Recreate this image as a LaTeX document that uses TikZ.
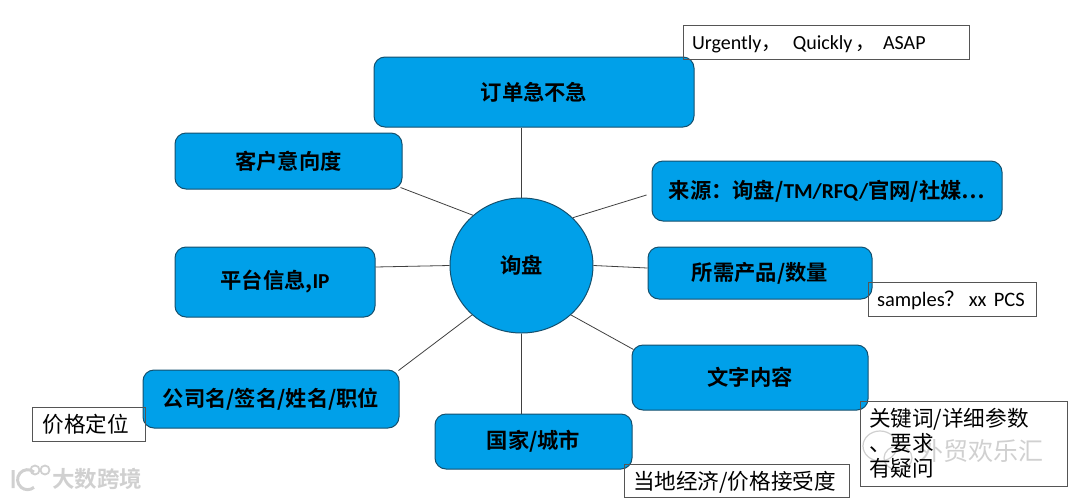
\documentclass[tikz,border=0pt]{standalone}
\usepackage{fontspec}
\setmainfont{Carlito}
\newfontfamily\cjk{Noto Sans CJK SC}[BoldFont={Noto Sans CJK SC Bold}]
\usepackage{xcolor}
\usepackage{tikz}
\usetikzlibrary{calc, shapes.geometric}
\definecolor{boxblue}{HTML}{00A0E9}
\definecolor{boxline}{HTML}{14506E}
\definecolor{noteline}{HTML}{555555}
\definecolor{markgray}{HTML}{D0D0D0}
\tikzset{
	hub/.style={ellipse, draw=boxline, fill=boxblue, line width=1pt, minimum width=143pt, minimum height=135pt, inner sep=0pt, font=\fontsize{21.3}{24}\selectfont\bfseries},
	topic/.style={draw=boxline, fill=boxblue, line width=1pt, rounded corners=11pt, inner sep=0pt, font=\fontsize{21.3}{24}\selectfont\bfseries},
	notebox/.style={draw=noteline, line width=0.9pt, inner sep=0pt, align=left, font=\fontsize{21.6}{25}\selectfont},
	spoke/.style={draw=black!75, line width=0.8pt},
	wmark/.style={text=markgray, inner sep=0pt},
}
\begin{document}
\begin{tikzpicture}[x=1pt, y=-1pt]
	\useasboundingbox (0,0) rectangle (1080,499);

	% Watermarks
	\node[wmark, anchor=west] (markleft) at (52,479) {\cjk\bfseries\fontsize{22.5}{26}\selectfont 大数跨境};
	\node[wmark, anchor=west] (markright) at (918,451) {\cjk\fontsize{25}{28}\selectfont 外贸欢乐汇};
	\draw[markgray, line width=1.2pt] (880,446) ellipse (17pt and 15pt);
	\draw[markgray, line width=1.2pt] (898,458) ellipse (14pt and 12pt);
	\draw[markgray, line width=3pt] (13,470) -- (13,488) (34,472) arc (50:310:10pt);
	\draw[markgray, line width=1.8pt] (35,470) circle (4.5pt) (45,470) circle (4.5pt);

	% Centre and topics
	\node[hub] (inquiry) at (521.5,265.5) {\cjk 询盘};
	\node[topic, minimum width=320pt, minimum height=70pt] (order) at (534,92) {\cjk 订单急不急};
	\node[topic, minimum width=227pt, minimum height=56pt] (intent) at (288.5,161) {\cjk 客户意向度};
	\node[topic, minimum width=350pt, minimum height=60pt] (source) at (827,191) {\cjk 来源：询盘/\normalfont\bfseries TM/RFQ/\cjk 官网/社媒…};
	\node[topic, minimum width=224pt, minimum height=52pt] (product) at (760,273) {\cjk 所需产品/数量};
	\node[topic, minimum width=200pt, minimum height=70pt] (platform) at (275,282) {\cjk 平台信息,\normalfont\bfseries IP};
	\node[topic, minimum width=236pt, minimum height=65pt] (content) at (750,377.5) {\cjk 文字内容};
	\node[topic, minimum width=256pt, minimum height=58pt] (company) at (271,399) {\cjk 公司名/签名/姓名/职位};
	\node[topic, minimum width=197pt, minimum height=55pt] (country) at (533.5,441.5) {\cjk 国家/城市};

	% Spokes
	\draw[spoke] (inquiry.north) -- (inquiry.north |- order.south);
	\draw[spoke] (inquiry.south) -- (inquiry.south |- country.north);
	\draw[spoke] (inquiry.134) -- ($(intent.south east)+(-2,-2)$);
	\draw[spoke] (inquiry.180) -- ($(platform.east)+(0,-15)$);
	\draw[spoke] (inquiry.225) -- ($(company.north east)+(-1,1)$);
	\draw[spoke] (inquiry.43) -- ($(source.west)+(-5,4)$);
	\draw[spoke] (inquiry.0) -- ($(product.west)+(0,-5)$);
	\draw[spoke] (inquiry.-45) -- ($(content.north west)+(2,5)$);

	% Notes
	\node[notebox, minimum width=286pt, minimum height=34pt, text width=268pt, text height=20pt, text depth=5pt] (asap) at (826,42) {\fontsize{20}{24}\selectfont Urgently\cjk ，\normalfont\ \kern-3pt\ Quickly\,\cjk ，\normalfont\ ASAP};
	\node[notebox, minimum width=168pt, minimum height=34pt, text width=150pt, text height=20pt, text depth=5pt] (samples) at (952,299) {\fontsize{20.5}{24}\selectfont samples\cjk ？\normalfont\,xx PCS};
	\node[notebox, minimum width=207pt, minimum height=85pt, text width=189pt] (keywords) at (963.5,443.5) {\cjk 关键词/详细参数\\、要求\\有疑问};
	\node[notebox, minimum width=113pt, minimum height=34pt, text width=92pt] (pricing) at (88.5,424) {\cjk 价格定位};
	\node[notebox, minimum width=225pt, minimum height=33pt, text width=207pt, text height=21pt, text depth=4pt] (economy) at (736.5,480.5) {\cjk 当地经济/价格接受度};
\end{tikzpicture}
\end{document}
